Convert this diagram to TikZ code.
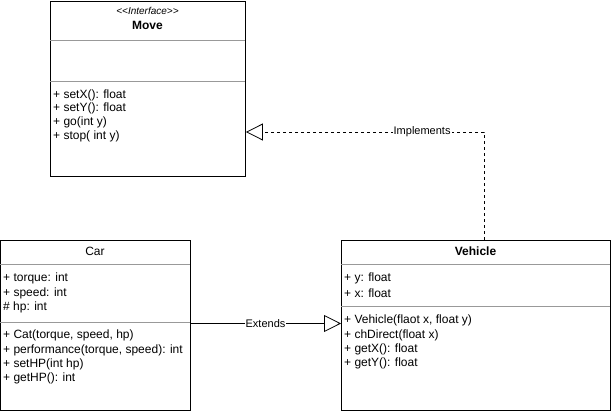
\documentclass[tikz,border=0pt]{standalone}
\usepackage{fontspec}
\setmainfont{Liberation Sans}
\usetikzlibrary{arrows.meta}
\begin{document}
\begin{tikzpicture}[x=1pt,y=-1pt,
  classbox/.style={draw=black,line width=0.9pt,anchor=north west,inner sep=0pt,fill=white},
  divider/.style={draw=black!40,line width=0.8pt},
  member/.style={anchor=west,inner sep=0pt,font=\fontsize{12}{14}\selectfont},
  title/.style={inner sep=0pt,font=\fontsize{12}{14}\selectfont\bfseries},
  plaintitle/.style={inner sep=0pt,font=\fontsize{12}{14}\selectfont},
  stereo/.style={inner sep=0pt,font=\fontsize{10}{12}\selectfont\itshape},
  rel/.style={line width=0.8pt,-{Triangle[open,length=17pt,width=17pt]}},
  lbl/.style={fill=white,inner sep=1pt,font=\fontsize{11}{13}\selectfont}]
\useasboundingbox (0,0) rectangle (611,411);

% interface Move
\node[classbox,minimum width=195pt,minimum height=175pt] (move) at (50,1) {};
\draw[divider] (50,40) -- (245,40);
\draw[divider] (50,81) -- (245,81);
\node[stereo] (movest) at (147.5,11)
  {\textless\kern0pt\textless Interface\textgreater\kern0pt\textgreater};
\node[title] (movet) at (147.5,25) {Move};
\node[member] (m1) at (53,95) {+ setX(): float};
\node[member] (m2) at (53,108.5) {+ setY(): float};
\node[member] (m3) at (53,122) {+ go(int y)};
\node[member] (m4) at (53,136) {+ stop( int y)};

% class Car
\node[classbox,minimum width=190pt,minimum height=170pt] (car) at (0,240) {};
\draw[divider] (0,264) -- (190,264);
\draw[divider] (0,322) -- (190,322);
\node[plaintitle] (cart) at (95,251) {Car};
\node[member] (c1) at (3,278) {+ torque: int};
\node[member] (c2) at (3,293) {+ speed: int};
\node[member] (c3) at (3,307) {\# hp: int};
\node[member] (c4) at (3,335) {+ Cat(torque, speed, hp)};
\node[member] (c5) at (3,350) {+ performance(torque, speed): int};
\node[member] (c6) at (3,364) {+ setHP(int hp)};
\node[member] (c7) at (3,378) {+ getHP(): int};

% class Vehicle
\node[classbox,minimum width=269pt,minimum height=170pt] (veh) at (341,240) {};
\draw[divider] (341,264) -- (610,264);
\draw[divider] (341,306) -- (610,306);
\node[title] (veht) at (475.5,251) {Vehicle};
\node[member] (v1) at (344,278) {+ y: float};
\node[member] (v2) at (344,293) {+ x: float};
\node[member] (v3) at (344,320) {+ Vehicle(flaot x, float y)};
\node[member] (v4) at (344,335) {+ chDirect(float x)};
\node[member] (v5) at (344,349) {+ getX(): float};
\node[member] (v6) at (344,363) {+ getY(): float};

% relations
\coordinate (implsrc) at (484,240);
\draw[rel,dash pattern=on 3pt off 3pt] (implsrc) |- (move.east |- 0,132)
  node[lbl,pos=0.63,solid] {Implements};
\coordinate (extsrc) at (190,323.5);
\draw[rel] (extsrc) -- (veh.west |- extsrc)
  node[lbl,pos=0.5] {Extends};
\end{tikzpicture}
\end{document}
